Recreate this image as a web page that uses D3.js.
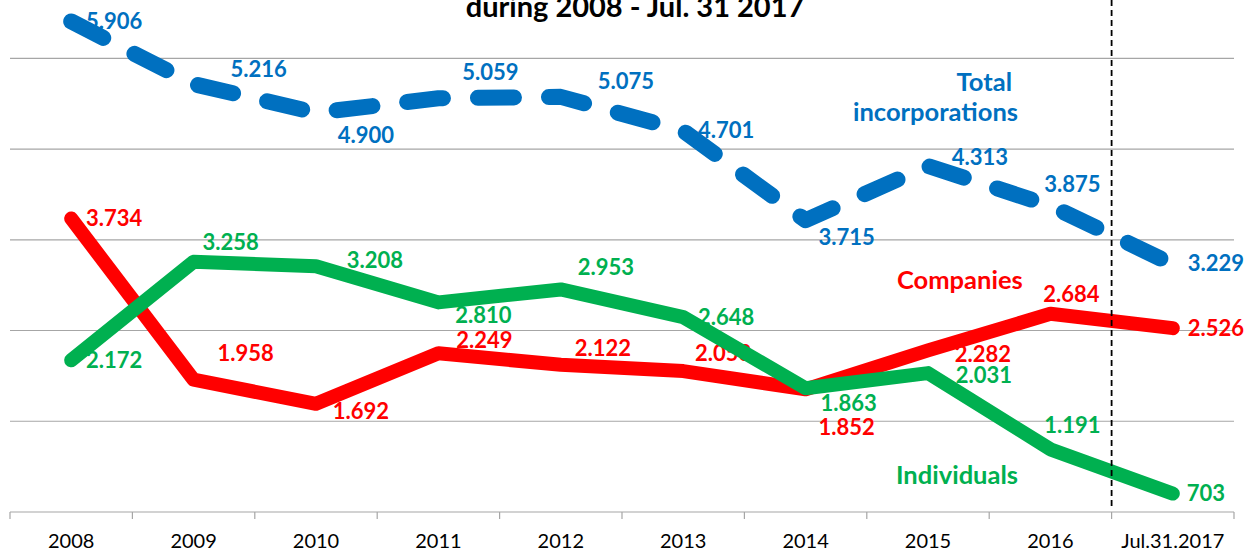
<!DOCTYPE html>
<html>
<head>
<meta charset="utf-8">
<script src="https://cdnjs.cloudflare.com/ajax/libs/d3/7.8.5/d3.min.js"></script>
<style>
body { margin: 0; background: #fff; }
</style>
</head>
<body>
<div id="chart"></div>
<script>
var categories = ['2008', '2009', '2010', '2011', '2012', '2013', '2014', '2015', '2016', 'Jul.31.2017']
var total_incorporations = [5906, 5216, 4900, 5059, 5075, 4701, 3715, 4313, 3875, 3229]
var companies = [3734, 1958, 1692, 2249, 2122, 2053, 1852, 2282, 2684, 2526]
var individuals = [2172, 3258, 3208, 2810, 2953, 2648, 1863, 2031, 1191, 703]
var grid_values = [1500, 2500, 3500, 4500, 5500]

// label offsets from each point (dx to label centre, dy to baseline), as placed in the original
var total_label_offsets = [[43, 7.5], [65, -7], [50, 30], [52, -18], [65, -8], [43, 7], [41, 25], [52, -1], [22, -14], [43, 6.5]]
var companies_label_offsets = [[43, 7.5], [52, -19], [45, 15], [46, -5], [42, -9], [40, -10], [41, 46], [55, 11.5], [21, -12], [43, 8]]
var individuals_label_offsets = [[43, 7.5], [37, -12], [59, 2], [45, 21], [45, -14.5], [43, 8], [43, 22.5], [56, 9.5], [22, -16], [33, 7]]

var width = 1254
var height = 551

var blue = '#0070c0'
var red = '#ff0000'
var green = '#00b050'
var font = 'Lato, "Open Sans", sans-serif'

var fmt = d3.formatLocale({decimal: ',', thousands: '.', grouping: [3], currency: ['', '']}).format(',d')

var svg = d3.select('#chart')
  .append('svg')
  .attr('width', width)
  .attr('height', height)

var x = d3.scaleBand()
  .domain(categories)
  .range([10, 1234])

var y = d3.scaleLinear()
  .domain([500, 5500])
  .range([512, 58.3])

function cx(i) { return x(categories[i]) + x.bandwidth() / 2 }

// title (first line is cut off in the original)
svg.append('text')
  .attr('x', 635)
  .attr('y', 17)
  .attr('text-anchor', 'middle')
  .style('font-family', font)
  .style('font-weight', 'bold')
  .style('font-size', '29px')
  .attr('fill', '#000')
  .text('during 2008 - Jul. 31 2017')

// gridlines
svg.selectAll('.grid')
  .data(grid_values)
  .enter()
  .append('line')
  .attr('x1', 10)
  .attr('x2', 1234)
  .attr('y1', function(d) { return y(d) })
  .attr('y2', function(d) { return y(d) })
  .attr('stroke', '#a6a6a6')
  .attr('stroke-width', 1.2)

// x axis
var x_axis = svg.append('g')
  .attr('transform', 'translate(0,' + y(500) + ')')

x_axis.append('line')
  .attr('x1', 10)
  .attr('x2', 1234)
  .attr('stroke', '#a6a6a6')
  .attr('stroke-width', 1.2)

x_axis.selectAll('.tick_mark')
  .data(categories.concat(['end']))
  .enter()
  .append('line')
  .attr('x1', function(d, i) { return 10 + i * x.step() })
  .attr('x2', function(d, i) { return 10 + i * x.step() })
  .attr('y1', 0)
  .attr('y2', 7)
  .attr('stroke', '#a6a6a6')
  .attr('stroke-width', 1.2)

x_axis.selectAll('.tick_label')
  .data(categories)
  .enter()
  .append('text')
  .attr('x', function(d) { return x(d) + x.bandwidth() / 2 })
  .attr('y', 36)
  .attr('text-anchor', 'middle')
  .style('font-family', font)
  .style('font-size', '20px')
  .attr('fill', '#000')
  .text(function(d) { return d })

// data labels (drawn under the lines, as in the original)
function add_labels(values, offsets, colour) {
  svg.append('g')
    .selectAll('text')
    .data(values)
    .enter()
    .append('text')
    .attr('x', function(d, i) { return cx(i) + offsets[i][0] })
    .attr('y', function(d, i) { return y(d) + offsets[i][1] })
    .attr('text-anchor', 'middle')
    .style('font-family', font)
    .style('font-weight', 'bold')
    .style('font-size', '22px')
    .attr('fill', colour)
    .text(function(d) { return fmt(d) })
}

add_labels(total_incorporations, total_label_offsets, blue)
add_labels(companies, companies_label_offsets, red)
add_labels(individuals, individuals_label_offsets, green)

var line = d3.line()
  .x(function(d, i) { return cx(i) })
  .y(function(d) { return y(d) })

svg.append('path')
  .datum(companies)
  .attr('d', line)
  .attr('fill', 'none')
  .attr('stroke', red)
  .attr('stroke-width', 14)
  .attr('stroke-linecap', 'round')
  .attr('stroke-linejoin', 'round')

svg.append('path')
  .datum(individuals)
  .attr('d', line)
  .attr('fill', 'none')
  .attr('stroke', green)
  .attr('stroke-width', 14)
  .attr('stroke-linecap', 'round')
  .attr('stroke-linejoin', 'round')

svg.append('path')
  .datum(total_incorporations)
  .attr('d', line)
  .attr('fill', 'none')
  .attr('stroke', blue)
  .attr('stroke-width', 16)
  .attr('stroke-linecap', 'round')
  .attr('stroke-linejoin', 'round')
  .attr('stroke-dasharray', '36,35')

// series names
svg.append('text')
  .attr('x', 1012)
  .attr('y', 91)
  .attr('text-anchor', 'end')
  .style('font-family', font)
  .style('font-weight', 'bold')
  .style('font-size', '25.5px')
  .attr('fill', blue)
  .text('Total')

svg.append('text')
  .attr('x', 1018)
  .attr('y', 121)
  .attr('text-anchor', 'end')
  .style('font-family', font)
  .style('font-weight', 'bold')
  .style('font-size', '25.5px')
  .attr('fill', blue)
  .text('incorporations')

svg.append('text')
  .attr('x', 897)
  .attr('y', 289)
  .style('font-family', font)
  .style('font-weight', 'bold')
  .style('font-size', '25.5px')
  .attr('fill', red)
  .text('Companies')

svg.append('text')
  .attr('x', 896)
  .attr('y', 484)
  .style('font-family', font)
  .style('font-weight', 'bold')
  .style('font-size', '25.5px')
  .attr('fill', green)
  .text('Individuals')

// dashed divider before the partial year
var divider_x = x('Jul.31.2017')
svg.append('line')
  .attr('x1', divider_x)
  .attr('x2', divider_x)
  .attr('y1', 0)
  .attr('y2', y(500) - 4)
  .attr('stroke', '#000')
  .attr('stroke-width', 1.8)
  .attr('stroke-dasharray', '6,4')
</script>
</body>
</html>
